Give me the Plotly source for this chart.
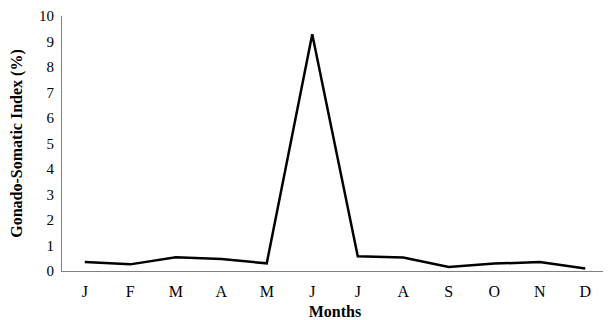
import plotly.graph_objects as go

months = ["J", "F", "M", "A", "M", "J", "J", "A", "S", "O", "N", "D"]
gsi = [0.35, 0.26, 0.54, 0.47, 0.30, 9.28, 0.58, 0.53, 0.16, 0.29, 0.35, 0.10]
x_idx = list(range(len(months)))

fig = go.Figure()
fig.add_trace(go.Scatter(x=x_idx, y=gsi, mode="lines",
                         line=dict(color="black", width=2.5)))

font = "Liberation Serif, Times New Roman, serif"
# page body has an 8px margin, so the figure is sized/offset to compensate
fig.update_layout(
    width=603, height=312,
    margin=dict(l=54, r=3, t=8, b=49),
    plot_bgcolor="white", paper_bgcolor="white",
    showlegend=False,
    font=dict(family=font, size=16, color="black"),
    xaxis=dict(
        tickmode="array", tickvals=x_idx, ticktext=months,
        range=[-0.5, 11.5], showgrid=False, zeroline=False,
        showline=True, linecolor="#808080", linewidth=1.2,
        ticks="outside", ticklen=6, tickcolor="rgba(0,0,0,0)",
        tickfont=dict(family=font, size=16),
        automargin="bottom",
        title=dict(text="<b>Months</b>", font=dict(family=font, size=16), standoff=7),
    ),
    yaxis=dict(
        range=[0, 10], dtick=1, showgrid=False, zeroline=False,
        showline=True, linecolor="#808080", linewidth=1.2,
        ticks="outside", ticklen=4, tickcolor="rgba(0,0,0,0)",
        ticklabeloverflow="allow",
        automargin="left",
        tickfont=dict(family=font, size=15),
        title=dict(text="<b>Gonado-Somatic Index (%)</b>", font=dict(family=font, size=16), standoff=16),
    ),
)
fig.write_html("out.html")
